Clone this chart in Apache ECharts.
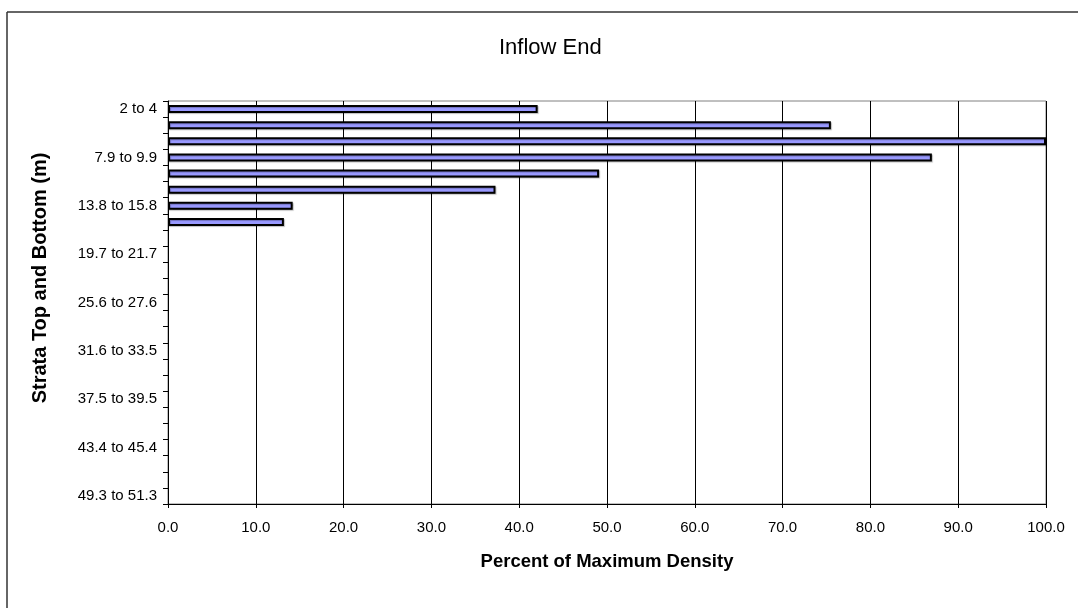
<!DOCTYPE html>
<html>
<head>
<meta charset="utf-8">
<style>
html,body{margin:0;padding:0;background:#fff;}
#chart{width:1078px;height:608px;}
</style>
<script src="https://cdn.jsdelivr.net/npm/echarts@6/dist/echarts.min.js"></script>
</head>
<body>
<div id="chart"></div>
<script>
const chartTitle = "Inflow End";
const xAxisTitle = "Percent of Maximum Density";
const yAxisTitle = "Strata Top and Bottom (m)";
const categories = [
  "2 to 4", "4 to 5.9", "5.9 to 7.9", "7.9 to 9.9", "9.9 to 11.8", "11.8 to 13.8",
  "13.8 to 15.8", "15.8 to 17.7", "17.7 to 19.7", "19.7 to 21.7", "21.7 to 23.6", "23.6 to 25.6",
  "25.6 to 27.6", "27.6 to 29.6", "29.6 to 31.6", "31.6 to 33.5", "33.5 to 35.5", "35.5 to 37.5",
  "37.5 to 39.5", "39.5 to 41.4", "41.4 to 43.4", "43.4 to 45.4", "45.4 to 47.4", "47.4 to 49.3",
  "49.3 to 51.3"
];
const densityValues = [
  42.1, 75.5, 100.0, 87.0, 49.1, 37.3, 14.2, 13.2,
  null, null, null, null, null, null, null, null, null,
  null, null, null, null, null, null, null, null
];
const xTicks = {min: 0, max: 100, interval: 10};

const FONT = "'Liberation Sans', Arial, sans-serif";
const chart = echarts.init(document.getElementById('chart'), null, {renderer: 'canvas'});
chart.setOption({
  animation: false,
  backgroundColor: '#ffffff',
  title: {
    text: chartTitle,
    left: 494,
    top: 32,
    textStyle: {fontFamily: FONT, fontSize: 22, fontWeight: 'normal', color: '#000'}
  },
  grid: {
    left: 168, right: 32, top: 101, bottom: 104,
    show: true, borderColor: '#808080', borderWidth: 1, backgroundColor: 'transparent'
  },
  xAxis: {
    type: 'value',
    min: xTicks.min, max: xTicks.max, interval: xTicks.interval,
    name: xAxisTitle,
    nameLocation: 'middle',
    nameGap: 48,
    nameTextStyle: {fontFamily: FONT, fontSize: 18.5, fontWeight: 'bold', color: '#000'},
    axisLine: {show: true, lineStyle: {color: '#000', width: 1}},
    axisTick: {show: true, length: 4, inside: false, lineStyle: {color: '#000'}},
    axisLabel: {
      margin: 16,
      fontFamily: FONT, fontSize: 15, color: '#000',
      formatter: v => v.toFixed(1)
    },
    splitLine: {show: true, lineStyle: {color: '#000', width: 1}}
  },
  yAxis: {
    type: 'category',
    data: categories,
    inverse: true,
    boundaryGap: true,
    axisLine: {show: true, lineStyle: {color: '#000', width: 1}},
    axisTick: {show: true, interval: 0, length: 5, inside: false, lineStyle: {color: '#000'}},
    axisLabel: {
      interval: 2,
      margin: 11,
      fontFamily: FONT, fontSize: 15, color: '#000'
    },
    splitLine: {show: false}
  },
  graphic: [
    {type: 'line', shape: {x1: 7, y1: 12, x2: 1078, y2: 12}, style: {stroke: '#333', lineWidth: 1.5}},
    {type: 'line', shape: {x1: 7, y1: 12, x2: 7, y2: 608}, style: {stroke: '#333', lineWidth: 1.5}},
    {
      type: 'text',
      x: 40, y: 278,
      rotation: Math.PI / 2,
      style: {
        text: yAxisTitle,
        fontFamily: FONT, fontSize: 20, fontWeight: 900,
        fill: '#000', align: 'center', verticalAlign: 'middle'
      }
    }
  ],
  series: [{
    type: 'bar',
    data: densityValues,
    barWidth: 8,
    itemStyle: {
      color: '#9999FF',
      borderColor: '#000',
      borderWidth: 2,
      shadowColor: 'rgba(0,0,0,0.25)',
      shadowOffsetX: 1,
      shadowOffsetY: 1,
      shadowBlur: 1
    }
  }]
});
</script>
</body>
</html>
